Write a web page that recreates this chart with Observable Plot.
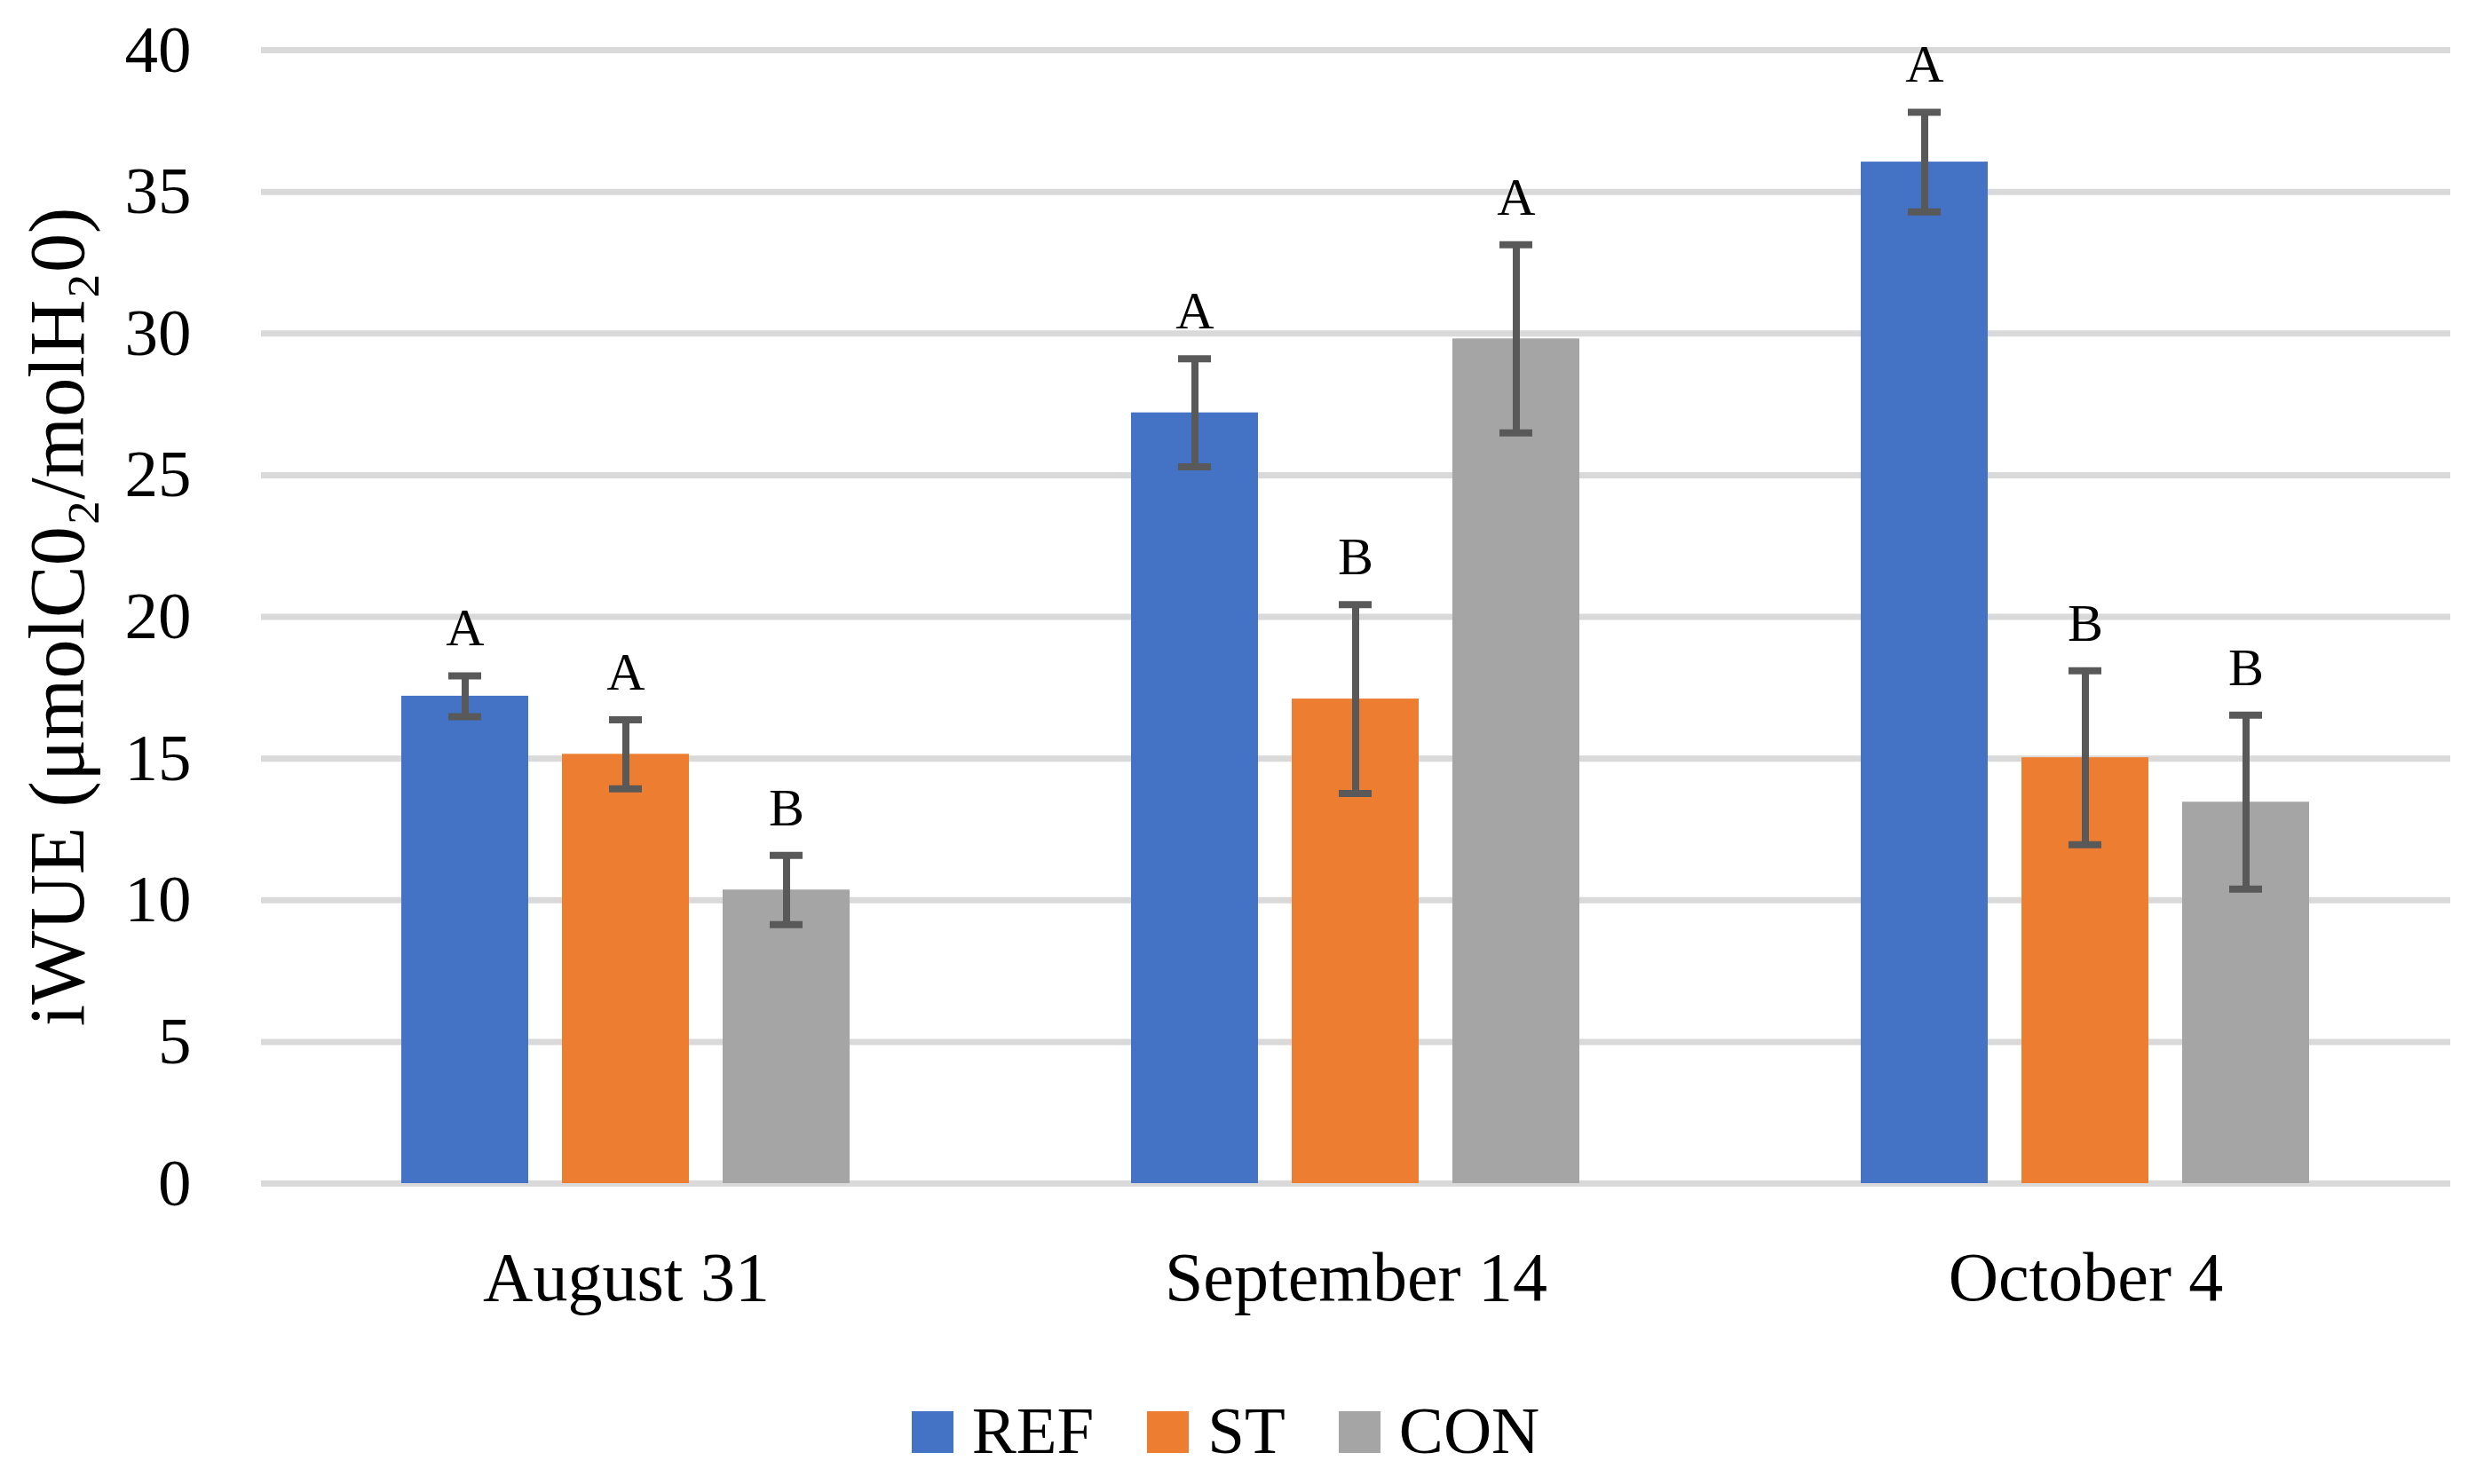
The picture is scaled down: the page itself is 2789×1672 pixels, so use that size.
<!DOCTYPE html>
<html>
<head>
<meta charset="utf-8">
<script src="https://cdn.jsdelivr.net/npm/d3@7"></script>
<script src="https://cdn.jsdelivr.net/npm/@observablehq/plot@0.6"></script>
<style>
  html, body { margin: 0; padding: 0; background: #ffffff; }
  #wrap { position: relative; width: 2789px; height: 1672px; overflow: hidden; background: #fff; }
  #chart { position: absolute; left: 0; top: 0; }
  #chart [aria-label="y-axis label"] text { font-size: 88px; }
  #chart [aria-label="fx-axis tick label"] text { font-size: 78px; }
  #legend {
    position: absolute; left: 0; top: 1574px; width: 2789px; height: 75px;
    text-align: center; font-family: "Liberation Serif", serif; font-size: 75px; line-height: 75px;
    color: #000; white-space: nowrap; transform: translateX(-14px);
  }
  .item { display: inline-block; margin: 0 30px; }
  .sw { display: inline-block; width: 47px; height: 47px; margin-right: 21px; vertical-align: baseline; }
</style>
</head>
<body>
<div id="wrap">
  <div id="chart"></div>
  <div id="legend"></div>
</div>
<script>
// ---- data ----
const dates = ["August 31", "September 14", "October 4"];
const series = ["REF", "ST", "CON"];
const colors = ["#4472c4", "#ed7d31", "#a5a5a5"];
const refMean = [17.2, 27.2, 36.05];
const stMean  = [15.15, 17.1, 15.03];
const conMean = [10.36, 29.81, 13.46];
const refErr = [0.72, 1.91, 1.76];
const stErr  = [1.22, 3.33, 3.07];
const conErr = [1.22, 3.32, 3.07];
const refLetter = ["A", "A", "A"];
const stLetter  = ["A", "B", "B"];
const conLetter = ["B", "A", "B"];
const yTicks = [0, 5, 10, 15, 20, 25, 30, 35, 40];
const yLabel = "iWUE (μmolC0₂/molH₂0)";

const means = {REF: refMean, ST: stMean, CON: conMean};
const errs = {REF: refErr, ST: stErr, CON: conErr};
const letters = {REF: refLetter, ST: stLetter, CON: conLetter};
const rows = [];
dates.forEach((d, i) => series.forEach(s => {
  rows.push({date: d, series: s, value: means[s][i], lo: means[s][i] - errs[s][i], hi: means[s][i] + errs[s][i], letter: letters[s][i]});
}));

const chart = Plot.plot({
  width: 2789,
  height: 1520,
  marginLeft: 293,
  marginRight: 28,
  marginTop: 56,
  marginBottom: 187,
  style: {fontFamily: "Liberation Serif, serif", fontSize: "75px", color: "#000", background: "#fff", overflow: "visible"},
  fx: {domain: dates, padding: 0, axis: "bottom", label: null, tickSize: 0, tickPadding: 76},
  x: {domain: series, paddingInner: 0.209, paddingOuter: 0.864, axis: null},
  y: {domain: [0, 40], ticks: yTicks, tickSize: 0, tickPadding: 79, label: yLabel, labelAnchor: "center", labelArrow: "none", labelOffset: 263},
  color: {domain: series, range: colors},
  marks: [
    Plot.gridY(yTicks, {stroke: "#d9d9d9", strokeWidth: 7, strokeOpacity: 1}),
    Plot.barY(rows, {fx: "date", x: "series", y: "value", fill: "series"}),
    Plot.ruleX(rows, {fx: "date", x: "series", y1: "lo", y2: "hi", stroke: "#595959", strokeWidth: 8}),
    Plot.tickY(rows, {fx: "date", x: "series", y: "hi", stroke: "#595959", strokeWidth: 8, insetLeft: 53, insetRight: 53}),
    Plot.tickY(rows, {fx: "date", x: "series", y: "lo", stroke: "#595959", strokeWidth: 8, insetLeft: 53, insetRight: 53}),
    Plot.text(rows, {fx: "date", x: "series", y: "hi", text: "letter", fontSize: 60, fill: "#000", lineAnchor: "bottom", dy: -34})
  ]
});
document.getElementById("chart").appendChild(chart);

const legend = document.getElementById("legend");
series.forEach((s, i) => {
  const item = document.createElement("span");
  item.className = "item";
  const sw = document.createElement("span");
  sw.className = "sw";
  sw.style.background = colors[i];
  item.appendChild(sw);
  item.appendChild(document.createTextNode(s));
  legend.appendChild(item);
});
</script>
</body>
</html>
